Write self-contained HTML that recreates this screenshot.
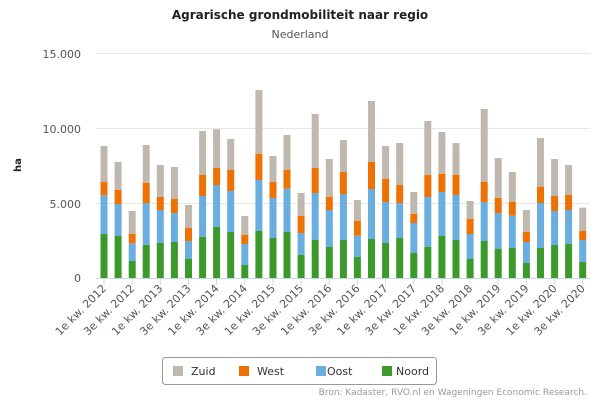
<!DOCTYPE html>
<html><head><meta charset="utf-8"><style>body{margin:0;background:#fff}svg{display:block;font-family:"DejaVu Sans","Liberation Sans",sans-serif}</style></head>
<body>
<svg id="s" width="600" height="400" xmlns="http://www.w3.org/2000/svg">
<rect width="600" height="400" fill="#fff"/>
<text x="300" y="19" text-anchor="middle" font-size="12" font-weight="bold" fill="#222">Agrarische grondmobiliteit naar regio</text>
<text x="300" y="38" text-anchor="middle" font-size="11" fill="#555">Nederland</text>
<g stroke="#e6e6e6" stroke-width="1">
<line x1="96" x2="590" y1="53.5" y2="53.5"/><line x1="96" x2="590" y1="128.5" y2="128.5"/><line x1="96" x2="590" y1="203.5" y2="203.5"/></g>
<g font-size="11" fill="#555" text-anchor="end">
<text x="81" y="58">15.000</text><text x="81" y="133">10.000</text><text x="81" y="208">5.000</text><text x="81" y="282">0</text></g>
<text transform="translate(21,165) rotate(-90)" text-anchor="middle" font-size="10" font-weight="bold" fill="#222">ha</text>
<g id="bars"></g>
<line x1="96" x2="590" y1="278.5" y2="278.5" stroke="#ccd6eb"/>
<g id="ticks"></g>
<rect x="162.5" y="357.5" width="274" height="27" rx="3" fill="#fff" stroke="#999"/>
<g font-size="11" fill="#333">
<rect x="173" y="366" width="10" height="10" fill="#bfb8ae"/><text x="191" y="375">Zuid</text>
<rect x="239" y="366" width="10" height="10" fill="#ee7203"/><text x="257" y="375">West</text>
<rect x="316" y="366" width="10" height="10" fill="#6aaee0"/><text x="327" y="375">Oost</text>
<rect x="382" y="366" width="10" height="10" fill="#3b9a2b"/><text x="396" y="375">Noord</text>
</g>
<text x="587" y="395" text-anchor="end" font-size="9" fill="#999">Bron: Kadaster, RVO.nl en Wageningen Economic Research.</text>
</svg>
<script>
var d=[[234,195.3,182,146],[236,204,190,162],[261,243.3,234,211],[244.7,203.3,182.7,145],[243,210,196.7,165],[242,213,198.7,167],[259,241,227.7,205],[236.7,196,174.7,131],[226.7,185,168,129.3],[232,191,169.7,139],[265,244,234.7,216],[231,180,153.7,90],[238,198,182,156],[232,188.7,169.7,135],[254.7,233,216,193],[240,193,168,114],[247,210,196.7,159],
[240,194,172,140],[256.7,235.7,220.7,200],[239,189,162,101],[243,202,178.7,146],[238,203,184.7,143],[253,223,213.7,192],[246.7,197,174.7,121],[236,192,173.7,132],[240,195,174.7,143],[259,234,218.7,201],[241,202,181.7,109],[249,213,197.7,158],[248,215.7,201.7,172],[263,242,231.7,210],[248,203,186.7,138],[245,211,196,159],[244,210,194.7,165],[262,240,230.7,207.7]];
var c=["#3b9a2b","#6aaee0","#ee7203","#bfb8ae"],h="",t="";
d.forEach(function(b,i){var x=104+i*14.08,prev=278;b.forEach(function(y,j){h+='<rect x="'+(x-3.5).toFixed(1)+'" y="'+y+'" width="7" height="'+(prev-y).toFixed(1)+'" fill="'+c[j]+'"/>';prev=y;});
if(i%2==0){var yr=2012+Math.floor(i/4),q=(i%4==0)?"1e":"3e";t+='<line x1="'+x.toFixed(1)+'" x2="'+x.toFixed(1)+'" y1="278" y2="285" stroke="#ccd6eb"/><text transform="translate('+(x+3).toFixed(1)+',289) rotate(-45)" text-anchor="end" font-size="11" fill="#555">'+q+' kw. '+yr+'</text>';}});
document.getElementById("bars").innerHTML=h;document.getElementById("ticks").innerHTML=t;
</script>
</body></html>
